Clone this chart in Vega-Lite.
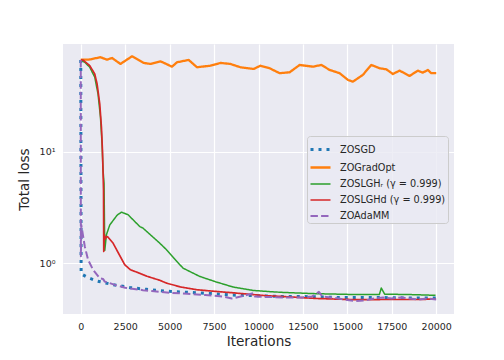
{
  "$schema": "https://vega.github.io/schema/vega-lite/v6.json",
  "width": 391,
  "height": 270,
  "autosize": {"type": "none"},
  "padding": {"left": 63, "top": 44, "right": 50, "bottom": 46},
  "background": "white",
  "config": {
    "font": "DejaVu Sans",
    "view": {"fill": "#EAEAF2", "stroke": null},
    "axis": {
      "grid": true, "gridColor": "white", "gridWidth": 1.2, "domain": false, "ticks": false,
      "labelColor": "#262626", "labelFontSize": 9.5, "titleColor": "#262626",
      "titleFontSize": 13.6, "titleFontWeight": "normal"
    }
  },
  "data": {"values": [
    {"s": "ZOSGD", "x": 0, "y": 67}, {"s": "ZOSGD", "x": 20, "y": 0.80}, {"s": "ZOSGD", "x": 400, "y": 0.74},
    {"s": "ZOSGD", "x": 900, "y": 0.69}, {"s": "ZOSGD", "x": 1800, "y": 0.64}, {"s": "ZOSGD", "x": 2800, "y": 0.60},
    {"s": "ZOSGD", "x": 3700, "y": 0.58}, {"s": "ZOSGD", "x": 4700, "y": 0.56}, {"s": "ZOSGD", "x": 5600, "y": 0.55},
    {"s": "ZOSGD", "x": 6500, "y": 0.54}, {"s": "ZOSGD", "x": 7500, "y": 0.53}, {"s": "ZOSGD", "x": 8500, "y": 0.515},
    {"s": "ZOSGD", "x": 9500, "y": 0.51}, {"s": "ZOSGD", "x": 10500, "y": 0.505}, {"s": "ZOSGD", "x": 11500, "y": 0.50},
    {"s": "ZOSGD", "x": 12500, "y": 0.50}, {"s": "ZOSGD", "x": 13500, "y": 0.495}, {"s": "ZOSGD", "x": 14500, "y": 0.49},
    {"s": "ZOSGD", "x": 15500, "y": 0.49}, {"s": "ZOSGD", "x": 16500, "y": 0.49}, {"s": "ZOSGD", "x": 17500, "y": 0.488},
    {"s": "ZOSGD", "x": 18500, "y": 0.485}, {"s": "ZOSGD", "x": 19500, "y": 0.485}, {"s": "ZOSGD", "x": 20000, "y": 0.485},

    {"s": "ZOGradOpt", "x": 0, "y": 67.5}, {"s": "ZOGradOpt", "x": 450, "y": 67.5}, {"s": "ZOGradOpt", "x": 1108, "y": 71.0},
    {"s": "ZOGradOpt", "x": 1479, "y": 67.5}, {"s": "ZOGradOpt", "x": 1760, "y": 69.9}, {"s": "ZOGradOpt", "x": 2232, "y": 61.8},
    {"s": "ZOGradOpt", "x": 2885, "y": 72.4}, {"s": "ZOGradOpt", "x": 3543, "y": 63.1}, {"s": "ZOGradOpt", "x": 3919, "y": 61.8},
    {"s": "ZOGradOpt", "x": 4481, "y": 65.3}, {"s": "ZOGradOpt", "x": 5134, "y": 58.4}, {"s": "ZOGradOpt", "x": 5415, "y": 64.0},
    {"s": "ZOGradOpt", "x": 6073, "y": 67.1}, {"s": "ZOGradOpt", "x": 6540, "y": 57.7}, {"s": "ZOGradOpt", "x": 7293, "y": 59.6},
    {"s": "ZOGradOpt", "x": 7855, "y": 63.1}, {"s": "ZOGradOpt", "x": 8418, "y": 61.8}, {"s": "ZOGradOpt", "x": 8980, "y": 57.7},
    {"s": "ZOGradOpt", "x": 9728, "y": 55.7}, {"s": "ZOGradOpt", "x": 10104, "y": 59.6}, {"s": "ZOGradOpt", "x": 10627, "y": 56.5},
    {"s": "ZOGradOpt", "x": 11190, "y": 51.0}, {"s": "ZOGradOpt", "x": 11752, "y": 52.0}, {"s": "ZOGradOpt", "x": 12314, "y": 60.5},
    {"s": "ZOGradOpt", "x": 13062, "y": 58.4}, {"s": "ZOGradOpt", "x": 13535, "y": 60.5}, {"s": "ZOGradOpt", "x": 14001, "y": 54.6},
    {"s": "ZOGradOpt", "x": 14564, "y": 51.0}, {"s": "ZOGradOpt", "x": 15030, "y": 44.4}, {"s": "ZOGradOpt", "x": 15311, "y": 42.8},
    {"s": "ZOGradOpt", "x": 15874, "y": 49.3}, {"s": "ZOGradOpt", "x": 16346, "y": 60.5}, {"s": "ZOGradOpt", "x": 16813, "y": 56.5},
    {"s": "ZOGradOpt", "x": 17190, "y": 55.3}, {"s": "ZOGradOpt", "x": 17561, "y": 50.2}, {"s": "ZOGradOpt", "x": 17937, "y": 53.8},
    {"s": "ZOGradOpt", "x": 18500, "y": 48.2}, {"s": "ZOGradOpt", "x": 18967, "y": 53.8}, {"s": "ZOGradOpt", "x": 19248, "y": 51.6},
    {"s": "ZOGradOpt", "x": 19529, "y": 54.6}, {"s": "ZOGradOpt", "x": 19720, "y": 51.0}, {"s": "ZOGradOpt", "x": 20000, "y": 51.0},

    {"s": "ZOSLGHᵣ (γ = 0.999)", "x": 0, "y": 67}, {"s": "ZOSLGHᵣ (γ = 0.999)", "x": 225, "y": 64},
    {"s": "ZOSLGHᵣ (γ = 0.999)", "x": 506, "y": 57.7}, {"s": "ZOSLGHᵣ (γ = 0.999)", "x": 787, "y": 47},
    {"s": "ZOSLGHᵣ (γ = 0.999)", "x": 973, "y": 33}, {"s": "ZOSLGHᵣ (γ = 0.999)", "x": 1108, "y": 20.5},
    {"s": "ZOSLGHᵣ (γ = 0.999)", "x": 1198, "y": 11.8}, {"s": "ZOSLGHᵣ (γ = 0.999)", "x": 1254, "y": 6.8},
    {"s": "ZOSLGHᵣ (γ = 0.999)", "x": 1310, "y": 5.2}, {"s": "ZOSLGHᵣ (γ = 0.999)", "x": 1350, "y": 1.30},
    {"s": "ZOSLGHᵣ (γ = 0.999)", "x": 1445, "y": 1.80}, {"s": "ZOSLGHᵣ (γ = 0.999)", "x": 1631, "y": 2.2},
    {"s": "ZOSLGHᵣ (γ = 0.999)", "x": 1850, "y": 2.45}, {"s": "ZOSLGHᵣ (γ = 0.999)", "x": 2050, "y": 2.7},
    {"s": "ZOSLGHᵣ (γ = 0.999)", "x": 2290, "y": 2.87}, {"s": "ZOSLGHᵣ (γ = 0.999)", "x": 2660, "y": 2.72},
    {"s": "ZOSLGHᵣ (γ = 0.999)", "x": 3318, "y": 2.13}, {"s": "ZOSLGHᵣ (γ = 0.999)", "x": 3503, "y": 2.06},
    {"s": "ZOSLGHᵣ (γ = 0.999)", "x": 4442, "y": 1.51}, {"s": "ZOSLGHᵣ (γ = 0.999)", "x": 4819, "y": 1.32},
    {"s": "ZOSLGHᵣ (γ = 0.999)", "x": 5300, "y": 1.08}, {"s": "ZOSLGHᵣ (γ = 0.999)", "x": 5752, "y": 0.90},
    {"s": "ZOSLGHᵣ (γ = 0.999)", "x": 6691, "y": 0.758}, {"s": "ZOSLGHᵣ (γ = 0.999)", "x": 7630, "y": 0.675},
    {"s": "ZOSLGHᵣ (γ = 0.999)", "x": 8564, "y": 0.609}, {"s": "ZOSLGHᵣ (γ = 0.999)", "x": 9688, "y": 0.567},
    {"s": "ZOSLGHᵣ (γ = 0.999)", "x": 10500, "y": 0.555}, {"s": "ZOSLGHᵣ (γ = 0.999)", "x": 11375, "y": 0.544},
    {"s": "ZOSLGHᵣ (γ = 0.999)", "x": 13253, "y": 0.53}, {"s": "ZOSLGHᵣ (γ = 0.999)", "x": 15126, "y": 0.522},
    {"s": "ZOSLGHᵣ (γ = 0.999)", "x": 16800, "y": 0.52}, {"s": "ZOSLGHᵣ (γ = 0.999)", "x": 16908, "y": 0.596},
    {"s": "ZOSLGHᵣ (γ = 0.999)", "x": 17100, "y": 0.525}, {"s": "ZOSLGHᵣ (γ = 0.999)", "x": 18876, "y": 0.519},
    {"s": "ZOSLGHᵣ (γ = 0.999)", "x": 19962, "y": 0.512},

    {"s": "ZOSLGHd (γ = 0.999)", "x": 0, "y": 67}, {"s": "ZOSLGHd (γ = 0.999)", "x": 129, "y": 67},
    {"s": "ZOSLGHd (γ = 0.999)", "x": 506, "y": 59.6}, {"s": "ZOSLGHd (γ = 0.999)", "x": 787, "y": 50.2},
    {"s": "ZOSLGHd (γ = 0.999)", "x": 917, "y": 40.9}, {"s": "ZOSLGHd (γ = 0.999)", "x": 1068, "y": 27},
    {"s": "ZOSLGHd (γ = 0.999)", "x": 1164, "y": 16.6}, {"s": "ZOSLGHd (γ = 0.999)", "x": 1220, "y": 10.3},
    {"s": "ZOSLGHd (γ = 0.999)", "x": 1260, "y": 6.0}, {"s": "ZOSLGHd (γ = 0.999)", "x": 1280, "y": 4.5},
    {"s": "ZOSLGHd (γ = 0.999)", "x": 1293, "y": 1.27}, {"s": "ZOSLGHd (γ = 0.999)", "x": 1320, "y": 1.8},
    {"s": "ZOSLGHd (γ = 0.999)", "x": 1380, "y": 1.65}, {"s": "ZOSLGHd (γ = 0.999)", "x": 1445, "y": 1.73},
    {"s": "ZOSLGHd (γ = 0.999)", "x": 1520, "y": 1.72}, {"s": "ZOSLGHd (γ = 0.999)", "x": 1816, "y": 1.51},
    {"s": "ZOSLGHd (γ = 0.999)", "x": 2474, "y": 0.965}, {"s": "ZOSLGHd (γ = 0.999)", "x": 2795, "y": 0.87},
    {"s": "ZOSLGHd (γ = 0.999)", "x": 3132, "y": 0.83}, {"s": "ZOSLGHd (γ = 0.999)", "x": 3728, "y": 0.76},
    {"s": "ZOSLGHd (γ = 0.999)", "x": 4442, "y": 0.70}, {"s": "ZOSLGHd (γ = 0.999)", "x": 4819, "y": 0.66},
    {"s": "ZOSLGHd (γ = 0.999)", "x": 5606, "y": 0.61}, {"s": "ZOSLGHd (γ = 0.999)", "x": 6540, "y": 0.575},
    {"s": "ZOSLGHd (γ = 0.999)", "x": 7630, "y": 0.555}, {"s": "ZOSLGHd (γ = 0.999)", "x": 8564, "y": 0.54},
    {"s": "ZOSLGHd (γ = 0.999)", "x": 9688, "y": 0.52}, {"s": "ZOSLGHd (γ = 0.999)", "x": 10442, "y": 0.508},
    {"s": "ZOSLGHd (γ = 0.999)", "x": 11375, "y": 0.50}, {"s": "ZOSLGHd (γ = 0.999)", "x": 12314, "y": 0.49},
    {"s": "ZOSLGHd (γ = 0.999)", "x": 13253, "y": 0.48}, {"s": "ZOSLGHd (γ = 0.999)", "x": 14187, "y": 0.475},
    {"s": "ZOSLGHd (γ = 0.999)", "x": 15126, "y": 0.47}, {"s": "ZOSLGHd (γ = 0.999)", "x": 16065, "y": 0.468},
    {"s": "ZOSLGHd (γ = 0.999)", "x": 17000, "y": 0.47}, {"s": "ZOSLGHd (γ = 0.999)", "x": 18000, "y": 0.47},
    {"s": "ZOSLGHd (γ = 0.999)", "x": 19000, "y": 0.47}, {"s": "ZOSLGHd (γ = 0.999)", "x": 19962, "y": 0.475},

    {"s": "ZOAdaMM", "x": 0, "y": 67}, {"s": "ZOAdaMM", "x": 5, "y": 1.15}, {"s": "ZOAdaMM", "x": 30, "y": 2.2},
    {"s": "ZOAdaMM", "x": 225, "y": 1.41}, {"s": "ZOAdaMM", "x": 410, "y": 1.07}, {"s": "ZOAdaMM", "x": 690, "y": 0.87},
    {"s": "ZOAdaMM", "x": 1070, "y": 0.73}, {"s": "ZOAdaMM", "x": 1250, "y": 0.72}, {"s": "ZOAdaMM", "x": 1350, "y": 0.68},
    {"s": "ZOAdaMM", "x": 1630, "y": 0.66}, {"s": "ZOAdaMM", "x": 2000, "y": 0.63}, {"s": "ZOAdaMM", "x": 2500, "y": 0.60},
    {"s": "ZOAdaMM", "x": 3000, "y": 0.585}, {"s": "ZOAdaMM", "x": 3500, "y": 0.57}, {"s": "ZOAdaMM", "x": 4000, "y": 0.56},
    {"s": "ZOAdaMM", "x": 4500, "y": 0.55}, {"s": "ZOAdaMM", "x": 5000, "y": 0.54}, {"s": "ZOAdaMM", "x": 6000, "y": 0.53},
    {"s": "ZOAdaMM", "x": 7000, "y": 0.515}, {"s": "ZOAdaMM", "x": 8000, "y": 0.50}, {"s": "ZOAdaMM", "x": 8500, "y": 0.48},
    {"s": "ZOAdaMM", "x": 9000, "y": 0.50}, {"s": "ZOAdaMM", "x": 9700, "y": 0.535}, {"s": "ZOAdaMM", "x": 9800, "y": 0.50},
    {"s": "ZOAdaMM", "x": 10500, "y": 0.495}, {"s": "ZOAdaMM", "x": 11500, "y": 0.49}, {"s": "ZOAdaMM", "x": 12500, "y": 0.49},
    {"s": "ZOAdaMM", "x": 13000, "y": 0.50}, {"s": "ZOAdaMM", "x": 13400, "y": 0.55}, {"s": "ZOAdaMM", "x": 13600, "y": 0.50},
    {"s": "ZOAdaMM", "x": 14500, "y": 0.48}, {"s": "ZOAdaMM", "x": 15000, "y": 0.465}, {"s": "ZOAdaMM", "x": 15500, "y": 0.455},
    {"s": "ZOAdaMM", "x": 16000, "y": 0.46}, {"s": "ZOAdaMM", "x": 16500, "y": 0.48}, {"s": "ZOAdaMM", "x": 17000, "y": 0.49},
    {"s": "ZOAdaMM", "x": 17500, "y": 0.48}, {"s": "ZOAdaMM", "x": 18000, "y": 0.49}, {"s": "ZOAdaMM", "x": 18500, "y": 0.48},
    {"s": "ZOAdaMM", "x": 19000, "y": 0.47}, {"s": "ZOAdaMM", "x": 19500, "y": 0.48}, {"s": "ZOAdaMM", "x": 20000, "y": 0.47}
  ]},
  "mark": {"type": "line", "clip": true, "strokeCap": "butt", "strokeJoin": "round"},
  "encoding": {
    "x": {
      "field": "x", "type": "quantitative",
      "scale": {"domain": [-1000, 21000], "nice": false, "zero": false},
      "axis": {"title": "Iterations", "values": [0, 2500, 5000, 7500, 10000, 12500, 15000, 17500, 20000], "format": "d", "labelPadding": 7, "titlePadding": 4, "labelFlush": false}
    },
    "y": {
      "field": "y", "type": "quantitative",
      "scale": {"type": "log", "domain": [0.348, 93.4], "nice": false},
      "axis": {"title": "Total loss", "values": [1, 10], "labelExpr": "datum.value == 10 ? '10¹' : '10⁰'", "labelPadding": 8, "titlePadding": 8}
    },
    "color": {
      "field": "s", "type": "nominal",
      "scale": {
        "domain": ["ZOSGD", "ZOGradOpt", "ZOSLGHᵣ (γ = 0.999)", "ZOSLGHd (γ = 0.999)", "ZOAdaMM"],
        "range": ["#1f77b4", "#ff7f0e", "#2ca02c", "#d62728", "#9467bd"]
      },
      "legend": {
        "title": null, "orient": "none", "legendX": 244, "legendY": 92,
        "symbolType": "stroke", "symbolSize": 400, "labelFontSize": 9.7, "labelColor": "#262626",
        "labelOffset": 8, "padding": 2, "rowPadding": 0,
        "fillColor": "rgba(234,234,242,0.8)", "strokeColor": "#cccccc", "cornerRadius": 3
      }
    },
    "strokeDash": {
      "field": "s", "type": "nominal",
      "scale": {
        "domain": ["ZOSGD", "ZOGradOpt", "ZOSLGHᵣ (γ = 0.999)", "ZOSLGHd (γ = 0.999)", "ZOAdaMM"],
        "range": [[3, 5], [1, 0], [1, 0], [1, 0], [7.4, 3.2]]
      }
    },
    "strokeWidth": {
      "field": "s", "type": "nominal",
      "scale": {
        "type": "ordinal",
        "domain": ["ZOSGD", "ZOGradOpt", "ZOSLGHᵣ (γ = 0.999)", "ZOSLGHd (γ = 0.999)", "ZOAdaMM"],
        "range": [3, 2.3, 1.5, 1.7, 2]
      }
    }
  }
}
